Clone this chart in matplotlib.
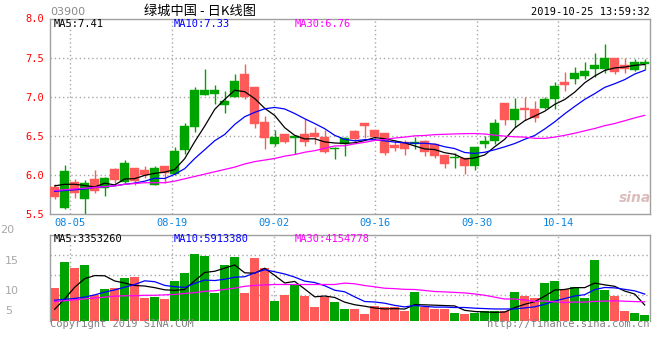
import numpy as np
import matplotlib
matplotlib.use("Agg")
import matplotlib.pyplot as plt

# ---------------- data ----------------
opens = [5.84, 5.58, 5.91, 5.69, 5.95, 5.835, 6.07, 5.91, 6.085, 6.06,
         5.87, 6.11, 6.01, 6.32, 6.61, 7.02, 7.04, 6.90, 6.99, 7.29,
         7.12, 6.68, 6.39, 6.52, 6.47, 6.52, 6.54, 6.48, 6.33, 6.40,
         6.555, 6.66, 6.58, 6.53, 6.38, 6.415, 6.40, 6.43, 6.39, 6.26,
         6.21, 6.21, 6.11, 6.39, 6.43, 6.92, 6.70, 6.856, 6.84, 6.856,
         6.97, 7.19, 7.22, 7.27, 7.356, 7.356, 7.50, 7.40, 7.34, 7.415]
highs = [5.89, 6.13, 5.95, 5.93, 6.06, 5.975, 6.09, 6.19, 6.09, 6.11,
         6.12, 6.11, 6.36, 6.66, 7.13, 7.36, 7.15, 7.07, 7.29, 7.42,
         7.13, 6.75, 6.57, 6.52, 6.51, 6.72, 6.61, 6.57, 6.36, 6.48,
         6.58, 6.66, 6.58, 6.53, 6.45, 6.45, 6.48, 6.45, 6.41, 6.26,
         6.28, 6.21, 6.36, 6.50, 6.72, 6.92, 6.98, 6.99, 6.945, 6.99,
         7.19, 7.31, 7.38, 7.45, 7.555, 7.68, 7.50, 7.50, 7.48, 7.48]
lows = [5.69, 5.57, 5.70, 5.50, 5.77, 5.73, 5.90, 5.90, 5.87, 5.96,
        5.87, 5.90, 6.00, 6.27, 6.55, 7.02, 6.91, 6.79, 6.99, 6.97,
        6.60, 6.33, 6.37, 6.41, 6.27, 6.37, 6.39, 6.28, 6.20, 6.24,
        6.42, 6.475, 6.44, 6.25, 6.30, 6.26, 6.33, 6.24, 6.22, 6.09,
        6.085, 6.01, 6.06, 6.34, 6.39, 6.64, 6.61, 6.70, 6.68, 6.84,
        6.84, 7.07, 7.165, 7.22, 7.25, 7.305, 7.29, 7.305, 7.33, 7.34]
closes = [5.72, 6.05, 5.77, 5.90, 5.79, 5.96, 5.94, 6.15, 5.92, 6.00,
          6.09, 6.02, 6.31, 6.62, 7.08, 7.09, 7.09, 6.95, 7.20, 6.99,
          6.65, 6.47, 6.49, 6.42, 6.50, 6.42, 6.48, 6.29, 6.35, 6.475,
          6.46, 6.62, 6.48, 6.28, 6.34, 6.33, 6.42, 6.29, 6.24, 6.14,
          6.225, 6.12, 6.36, 6.43, 6.665, 6.70, 6.84, 6.83, 6.73, 6.97,
          7.14, 7.15, 7.30, 7.33, 7.40, 7.50, 7.31, 7.356, 7.44, 7.45]
# volume, millions of shares
volumes = [7.2, 13.0, 11.7, 12.3, 5.7, 7.0, 7.2, 9.4, 9.6, 5.1,
           5.2, 4.8, 8.8, 10.6, 14.8, 14.4, 6.1, 12.3, 14.1, 6.1,
           13.9, 11.7, 4.3, 5.7, 7.8, 5.5, 3.0, 5.2, 4.1, 2.6,
           2.6, 1.4, 3.2, 3.0, 3.0, 2.1, 6.3, 3.0, 2.6, 2.6,
           1.7, 1.4, 1.7, 2.1, 2.1, 2.1, 6.3, 5.4, 5.0, 8.3,
           8.8, 7.0, 7.4, 5.0, 13.4, 6.8, 5.4, 2.1, 1.7, 1.2]

# moving-average values before a full window exists
ma5_head = [5.86, 5.88, 5.88, 5.865]
ma10_head = [5.79, 5.80, 5.81, 5.82, 5.84, 5.85, 5.86, 5.88, 5.895]
ma30_head = [5.80, 5.81, 5.82, 5.83, 5.84, 5.85, 5.86, 5.88, 5.89, 5.90,
             5.90, 5.90, 5.92, 5.95, 5.98, 6.01, 6.04, 6.07, 6.10, 6.14,
             6.17, 6.19, 6.21, 6.24, 6.26, 6.29, 6.31, 6.34, 6.37]
vma5_head = [2.5, 4.8, 7.4, 9.3]
vma10_head = [4.5, 4.7, 4.9, 5.2, 5.7, 6.3, 6.8, 7.4, 8.0]
vma30_head = [4.2, 4.4, 4.6, 4.8, 5.0, 5.2, 5.4, 5.5, 5.5, 5.6,
              5.6, 5.7, 5.8, 6.0, 6.2, 6.5, 6.6, 6.9, 7.2, 7.6,
              7.8, 7.9, 8.0, 8.0, 8.0, 8.0, 8.0, 8.0, 8.0]

date_labels = ["08-05", "08-19", "09-02", "09-16", "09-30", "10-14"]
date_index = [2, 12, 22, 32, 42, 50]

price_ticks = [5.5, 6.0, 6.5, 7.0, 7.5, 8.0]
vol_labels = ["20", "15", "10", "5"]

ma_price_text = ["MA5:7.41", "MA10:7.33", "MA30:6.76"]
ma_vol_text = ["MA5:3353260", "MA10:5913380", "MA30:4154778"]

title_text = "绿城中国 - 日K线图"
code_text = "03900"
time_text = "2019-10-25 13:59:32"

# ---------------- helpers ----------------
def moving_avg(values, n, head):
    out = list(head)
    for i in range(len(head), len(values)):
        out.append(float(np.mean(values[i - n + 1:i + 1])))
    return np.array(out)

W, H = 660, 360
def fx(x):
    return x / W
def fy(y):
    return 1 - y / H

MONO = "DejaVu Sans Mono"
GREEN = "#00a400"
RED = "#ff5a5a"
GRID = "#a8a8a8"
SPINE = "#a0a0a0"
MA_COLORS = ["#000000", "#0000ff", "#ff00ff"]

n = len(closes)
xs = np.arange(n) + 0.47
o = np.array(opens); c = np.array(closes)
hi = np.array(highs); lo = np.array(lows)
up = c >= o
colors = [GREEN if u else RED for u in up]

fig = plt.figure(figsize=(W / 100, H / 100), dpi=100)
fig.patch.set_facecolor("white")

ax = fig.add_axes([fx(50), fy(214), 600 / W, (214 - 18.5) / H])
axv = fig.add_axes([fx(50), fy(320.5), 600 / W, (320.5 - 234.7) / H])

grid_x = [i * n / (n - 1) for i in date_index]

# ---------- price panel ----------
ax.set_xlim(0, n)
ax.set_ylim(5.5, 8.0)
for g in grid_x:
    ax.axvline(g, color=GRID, lw=1, ls=(0, (1, 2)), zorder=0)
for t in price_ticks[1:-1]:
    ax.axhline(t, color=GRID, lw=1, ls=(0, (1, 2)), zorder=0)

ax.vlines(xs, lo, hi, colors=colors, lw=1, zorder=2)
body_bottom = np.minimum(o, c)
body_h = np.maximum(np.abs(c - o), 0.008)
ax.bar(xs, body_h, bottom=body_bottom, width=0.88, color=colors,
       edgecolor=colors, linewidth=0.3, zorder=3)

for vals, nn, head, col in [(closes, 5, ma5_head, MA_COLORS[0]),
                            (closes, 10, ma10_head, MA_COLORS[1]),
                            (closes, 30, ma30_head, MA_COLORS[2])]:
    ax.plot(xs, moving_avg(vals, nn, head), color=col, lw=0.9, zorder=4)

ax.set_yticks(price_ticks)
ax.set_yticklabels(["%.1f" % t for t in price_ticks], color="#ff0000",
                   fontfamily=MONO, fontsize=7.5)
ax.set_xticks(grid_x)
ax.set_xticklabels(date_labels, color="#0a84e0", fontfamily=MONO, fontsize=7.5)
ax.tick_params(length=0, pad=3)
ax.tick_params(axis="y", pad=4)
for s in ax.spines.values():
    s.set_color(SPINE)
    s.set_linewidth(1)

for txt, col, x in zip(ma_price_text, MA_COLORS, [54, 174, 295]):
    fig.text(fx(x), fy(24), txt, color=col, fontfamily=MONO, fontsize=7.5,
             ha="left", va="center")

# sina watermark
fig.text(fx(635), fy(198), "sina", color="#d9b5b5", fontsize=10,
         fontstyle="italic", fontweight="bold", ha="center", va="center",
         alpha=0.9)

# ---------- volume panel ----------
vmax = (320.5 - 234.7) / 4.5
axv.set_xlim(0, n)
axv.set_ylim(0, vmax)
for g in grid_x:
    axv.axvline(g, color=GRID, lw=1, ls=(0, (1, 2)), zorder=0)
for frac in [0.763, 0.530, 0.297]:
    axv.axhline(frac * vmax, color=GRID, lw=1, ls=(0, (1, 2)), zorder=0)
axv.bar(xs, volumes, width=0.9, color=colors, zorder=2)
for vals, nn, head, col in [(volumes, 5, vma5_head, MA_COLORS[0]),
                            (volumes, 10, vma10_head, MA_COLORS[1]),
                            (volumes, 30, vma30_head, MA_COLORS[2])]:
    axv.plot(xs, moving_avg(vals, nn, head), color=col, lw=0.9, zorder=3)
axv.set_xticks([])
axv.set_yticks([])
for k, s in axv.spines.items():
    s.set_color(SPINE)
    s.set_linewidth(1)
axv.spines["bottom"].set_visible(False)

for txt, col, x in zip(ma_vol_text, MA_COLORS, [54, 174, 295]):
    fig.text(fx(x), fy(239), txt, color=col, fontfamily=MONO, fontsize=7.5,
             ha="left", va="center")

for lab, (x, y) in zip(vol_labels, [(0, 230), (5, 261), (5, 291), (5, 311)]):
    fig.text(fx(x), fy(y), lab, color="#a8a8a8", fontsize=8,
             ha="left", va="center")

# ---------- header / footer ----------
fig.text(fx(200), fy(11), title_text, color="#000000", fontsize=9.5,
         family=["Noto Sans CJK SC", "DejaVu Sans"], ha="center", va="center")
fig.text(fx(50), fy(12), code_text, color="#8a8a8a", fontsize=8,
         ha="left", va="center")
fig.text(fx(650), fy(12), time_text, color="#000000", fontfamily=MONO,
         fontsize=7.5, ha="right", va="center")
fig.text(fx(50), fy(324), "Copyright 2019 SINA.COM", color="#808080",
         fontfamily=MONO, fontsize=7.5, ha="left", va="center")
fig.text(fx(650), fy(324), "http://finance.sina.com.cn", color="#808080",
         fontfamily=MONO, fontsize=7.5, ha="right", va="center")

fig.savefig("out.png", dpi=100, facecolor="white")
